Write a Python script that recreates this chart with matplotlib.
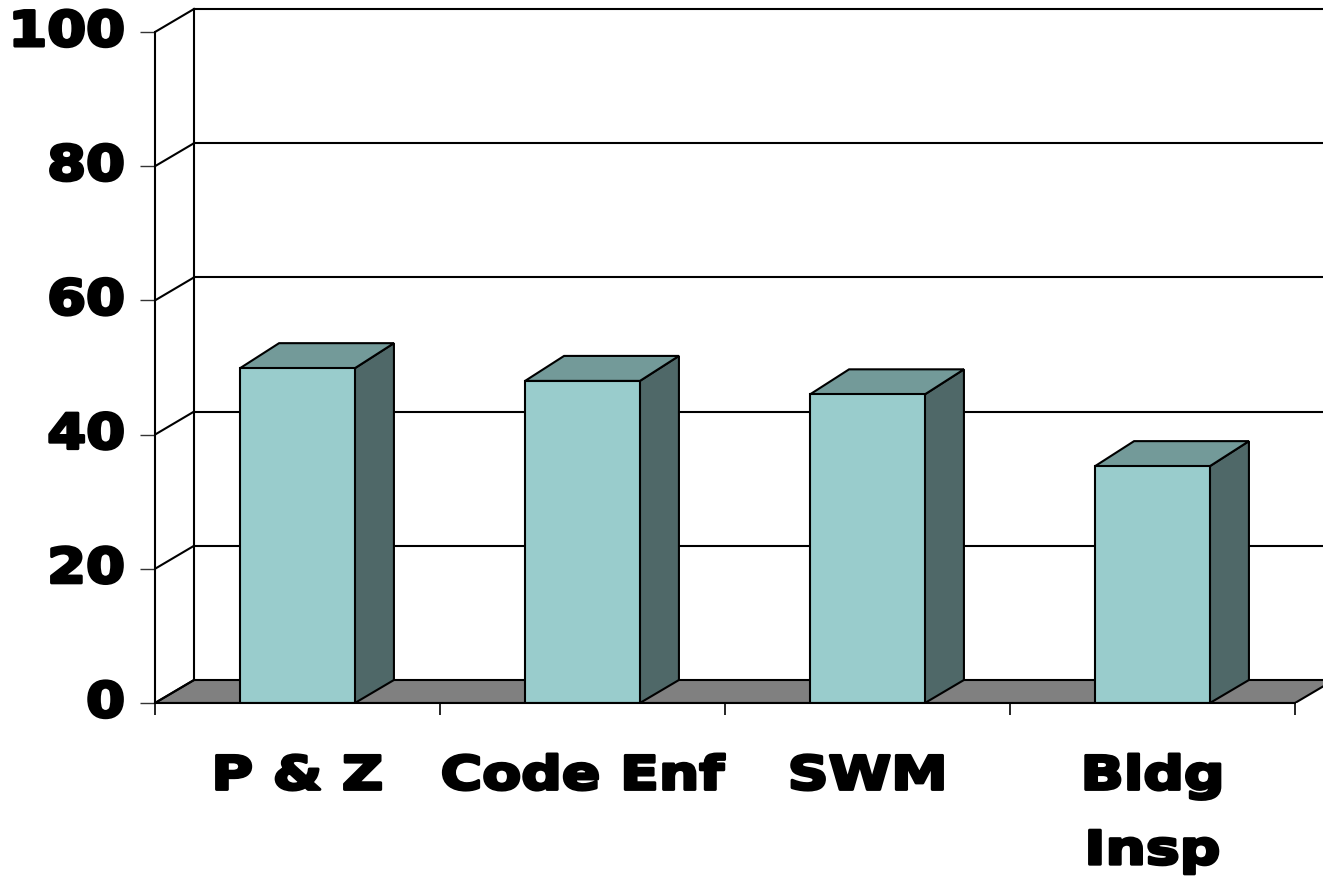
import matplotlib
matplotlib.use("Agg")
import matplotlib.pyplot as plt
from matplotlib.patches import Polygon
from matplotlib.patheffects import AbstractPathEffect
from matplotlib.transforms import Affine2D

categories = ["P & Z", "Code Enf", "SWM", "Bldg\nInsp"]
values = [49.9, 48, 46, 35.3]
y_ticks = [0, 20, 40, 60, 80, 100]

W, H = 1323, 877
PX_PER_CAT = 285.0
PX_PER_UNIT = 6.71
DX = 39 / PX_PER_CAT
DY = 23 / PX_PER_UNIT
DY_TOP = 25 / PX_PER_UNIT
BAR_W = 0.403

FRONT, TOP, SIDE, FLOOR = "#99CCCC", "#739A99", "#4F6868", "#808080"
LW = 1.5


class WideHeavy(AbstractPathEffect):
    """Stretch real text horizontally about an anchor and thicken its strokes."""

    def __init__(self, sx, stroke, anchor="center"):
        super().__init__()
        self.sx, self.stroke, self.anchor = sx, stroke, anchor

    def draw_path(self, renderer, gc, tpath, affine, rgbFace=None):
        ext = tpath.get_extents()
        ax_ = ext.x1 if self.anchor == "right" else (ext.x0 + ext.x1) / 2
        t = Affine2D().translate(-ax_, 0).scale(self.sx, 1).translate(ax_, 0) + affine
        gc0 = renderer.new_gc()
        gc0.copy_properties(gc)
        gc0.set_foreground("black")
        gc0.set_linewidth(self.stroke)
        gc0.set_joinstyle("round")
        renderer.draw_path(gc0, tpath, t, rgbFace)
        gc0.restore()


plt.rcParams["font.family"] = ["DejaVu Sans"]
fig = plt.figure(figsize=(W / 100, H / 100), dpi=100, facecolor="white")
ax = fig.add_axes([155 / W, (877 - 703) / H, (W - 155) / W, 703 / H])
ax.set_xlim(0, (W - 155) / PX_PER_CAT)
ax.set_ylim(0, 703 / PX_PER_UNIT)
ax.patch.set_visible(False)

x_end = len(categories)
xmax = ax.get_xlim()[1]

# floor
ax.add_patch(Polygon([(0, 0), (DX, DY), (x_end + DX, DY), (x_end, 0)],
                     closed=True, fc=FLOOR, ec="black", lw=LW, zorder=1))
# back wall and side wall lines
ax.plot([DX, DX], [DY, y_ticks[-1] + DY], color="black", lw=LW, zorder=1.5)
for v in y_ticks:
    ax.plot([0, DX], [v, v + DY], color="black", lw=LW, zorder=1.5)
    if v > 0:
        ax.plot([DX, xmax], [v + DY, v + DY], color="black", lw=LW, zorder=1.5)

# bars
centers = [i + 0.5 for i in range(len(categories))]
ax.bar(centers, values, width=BAR_W, color=FRONT, edgecolor="black", linewidth=LW, zorder=3)
for c, v in zip(centers, values):
    l, r = c - BAR_W / 2, c + BAR_W / 2
    ax.add_patch(Polygon([(r, 0), (r + DX, DY), (r + DX, v + DY_TOP), (r, v)],
                         closed=True, fc=SIDE, ec="black", lw=LW, zorder=2.5))
    ax.add_patch(Polygon([(l, v), (l + DX, v + DY_TOP), (r + DX, v + DY_TOP), (r, v)],
                         closed=True, fc=TOP, ec="black", lw=LW, zorder=2.5))

# axes
for s in ("top", "right"):
    ax.spines[s].set_visible(False)
ax.spines["left"].set_bounds(0, y_ticks[-1])
ax.spines["bottom"].set_bounds(0, x_end)
ax.spines["left"].set_linewidth(LW)
ax.spines["bottom"].set_linewidth(LW)
ax.spines["left"].set_zorder(4)
ax.spines["bottom"].set_zorder(4)

ax.set_yticks(y_ticks)
ax.set_yticklabels([str(v) for v in y_ticks], fontsize=35, fontweight="bold",
                   color="black", va="center")
ax.tick_params(axis="y", length=10.8, width=1, pad=11, color="#333333")
for t in ax.get_yticklabels():
    t.set_path_effects([WideHeavy(1.15, 2.2, "right")])

ax.set_xticks(range(x_end + 1))
ax.set_xticklabels([])
ax.set_xticks(centers, minor=True)
ax.set_xticklabels(categories, minor=True, fontsize=33.5, fontweight="bold",
                   color="black", linespacing=1.85)
ax.tick_params(axis="x", which="major", length=8.6, width=1.2)
ax.tick_params(axis="x", which="minor", length=0, pad=37)
for t in ax.get_xticklabels(minor=True):
    t.set_path_effects([WideHeavy(1.22, 2.2)])

fig.savefig("out.png", dpi=100)
